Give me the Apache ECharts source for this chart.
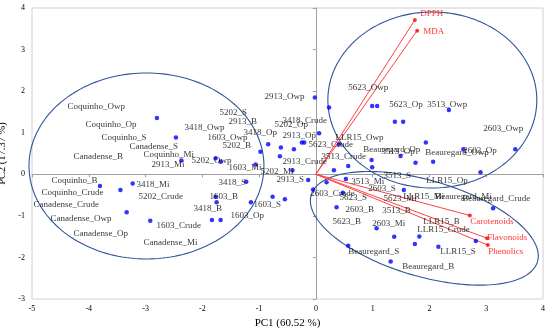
<!DOCTYPE html>
<html><head><meta charset="utf-8">
<script src="https://cdn.jsdelivr.net/npm/echarts/dist/echarts.min.js"></script>
<style>html,body{margin:0;padding:0;background:#fff}#c{width:550px;height:331px}</style>
</head><body><div id="c"></div>
<script>
// ---- data ----
const scorePC1 = [-2.80,-2.465,-2.368,-3.803,-3.442,-3.227,-3.333,-2.917,
  -1.766,-1.678,-1.062,-0.977,-0.840,-0.616,-0.387,-0.246,-0.206,-0.634,-0.414,-0.136,-1.227,-1.766,-1.748,-1.144,-1.831,-1.678,-0.762,-0.546,
  -0.018,0.232,0.056,-0.048,0.408,
  0.991,1.079,1.391,1.537,2.342,1.937,3.512,2.597,1.491,2.065,2.900,0.981,1.755,
  0.317,0.569,0.991,0.188,0.528,1.549,0.475,0.364,
  1.069,1.379,1.822,1.743,2.157,2.817,3.121,1.317,0.569];
const scorePC2 = [1.354,0.885,0.332,-0.281,-0.378,-0.221,-0.914,-1.116,
  0.385,0.303,0.236,0.544,0.722,0.645,0.601,0.765,0.765,0.433,0.099,-0.137,-0.178,-0.539,-0.674,-0.674,-1.099,-1.099,-0.539,-0.601,
  1.847,1.607,0.989,-0.366,0.722,
  1.643,1.643,1.265,1.265,1.547,0.765,0.601,0.601,0.440,0.303,0.051,0.344,0.279,
  0.096,0.200,0.168,-0.190,-0.113,-0.378,-0.443,-0.794,
  -1.299,-1.501,-1.496,-1.677,-1.742,-1.605,-0.818,-2.098,-1.720];

const loadingNames = ['DPPH','MDA','Carotenoids','Flavonoids','Phenolics'];
const loadingPC1 = [1.743,1.783,2.711,3.016,3.028];
const loadingPC2 = [3.712,3.454,-0.991,-1.540,-1.701];
const loadingLabelPC1 = [1.831,1.884,2.711,3.011,3.028];
const loadingLabelPC2 = [3.857,3.424,-1.147,-1.532,-1.869];

const sampleNames = ['Coquinho_Owp','Coquinho_Op','Coquinho_S','Canadense_S','Canadense_B','Coquinho_Mi','2913_Mi','Coquinho_B','Coquinho_Crude','3418_Mi','5202_Crude','Canadense_Crude','Canadense_Owp','1603_Crude','Canadense_Op','Canadense_Mi',
 '3418_Owp','5202_S','2913_B','1603_Owp','3418_Op','5202_B','5202_Owp','1603_Mi','5202_Mi','2913_Owp','3418_Crude','5202_Op','2913_Op','2913_Crude','2913_S','3418_S','1603_B','3418_B','1603_S','1603_Op',
 '5623_Crude','3513_Crude','LLR15_Owp','5623_Owp','5623_Op','3513_Owp','2603_Owp','Beauregard_Op','3513_Op','Beauregard_Owp','2603_Op','3513_S','LLR15_Op','3513_Mi','2603_S','2603_Crude','5623_S','5623_Mi','LLR15_Mi','Beauregard_Mi','Beauregard_Crude','2603_B','3513_B','5623_B','2603_Mi','LLR15_B','LLR15_Crude','LLR15_S','Beauregard_S','Beauregard_B'];
const sampleLabelPC1 = [-4.384,-4.067,-3.785,-3.292,-4.278,-3.046,-2.905,-4.665,-4.842,-3.169,-3.134,-4.982,-4.683,-2.817,-4.278,-3.046,
 -2.324,-1.708,-1.549,-1.919,-1.285,-1.655,-2.201,-1.549,-0.986,-0.915,-0.599,-0.739,-0.599,-0.599,-0.704,-1.725,-1.884,-2.165,-1.109,-1.514,
 -0.141,0.088,0.335,0.563,1.285,1.954,2.940,0.827,1.144,1.919,2.588,1.180,1.937,0.616,0.915,-0.106,0.405,1.180,1.532,2.095,2.570,0.511,1.162,0.282,0.986,1.884,1.778,2.183,0.563,1.514];
const sampleLabelPC2 = [1.619,1.186,0.873,0.657,0.416,0.464,0.224,-0.161,-0.450,-0.257,-0.546,-0.738,-1.075,-1.244,-1.436,-1.653,
 1.114,1.475,1.258,0.873,0.993,0.681,0.320,0.152,0.055,1.860,1.282,1.186,0.921,0.296,-0.137,-0.209,-0.546,-0.837,-0.738,-1.003,
 0.705,0.416,0.873,2.076,1.667,1.667,1.090,0.585,0.536,0.512,0.561,-0.041,-0.161,-0.185,-0.353,-0.474,-0.570,-0.594,-0.546,-0.546,-0.594,-0.859,-0.883,-1.147,-1.195,-1.147,-1.340,-1.869,-1.869,-2.230];

const ellipseCenter = [[-2.984,0.20],[2.051,1.787],[1.91,-1.30]];
const ellipseAxisA  = [[2.069,0],[1.840,0],[1.993,-0.801]];
const ellipseAxisB  = [[0,2.237],[0,2.117],[-0.238,-1.107]];

const xTickMin = -5, xTickMax = 4, yTickMin = -3, yTickMax = 4;
const xName = 'PC1 (60.52 %)', yName = 'PC2 (17.37 %)';

// ---- chart ----
const FONT = 'Liberation Serif';
const chart = echarts.init(document.getElementById('c'));

const ellipseData = ellipseCenter.map((c,i)=>[c[0],c[1],ellipseAxisA[i][0],ellipseAxisA[i][1],ellipseAxisB[i][0],ellipseAxisB[i][1]]);

const vectorSeries = loadingNames.map((n,i)=>({
  type:'line', name:n+'_vec', data:[[0,0],[loadingPC1[i],loadingPC2[i]]],
  symbol:'none', silent:true, animation:false, z:3,
  lineStyle:{color:'#ff4040', width:1}
}));

const labelData = sampleNames.map((n,i)=>({name:n, value:[sampleLabelPC1[i],sampleLabelPC2[i]]}))
 .concat(loadingNames.map((n,i)=>({name:n, value:[loadingLabelPC1[i],loadingLabelPC2[i]], label:{color:'#ff0000'}})));

const axisBase = {type:'value', splitLine:{show:false}};
chart.setOption({
  animation:false,
  grid:{left:32, right:7, top:8, bottom:32, show:true, borderColor:'#d0d0d0', borderWidth:1, containLabel:false, outerBoundsMode:'none'},
  xAxis:[
    Object.assign({}, axisBase, {min:xTickMin, max:xTickMax, interval:1, position:'bottom',
      axisLine:{show:false, onZero:false}, axisTick:{show:false},
      axisLabel:{color:'#000', fontSize:8, fontFamily:FONT, margin:6},
      name:xName, nameLocation:'middle', nameGap:17, nameTextStyle:{color:'#000', fontSize:11, fontFamily:FONT}}),
    Object.assign({}, axisBase, {min:xTickMin, max:xTickMax, interval:1, position:'bottom',
      axisLine:{show:true, onZero:true, onZeroAxisIndex:0, lineStyle:{color:'#a0a0a0', width:1}},
      axisTick:{show:true, length:3, lineStyle:{color:'#a0a0a0'}}, axisLabel:{show:false}})
  ],
  yAxis:[
    Object.assign({}, axisBase, {min:yTickMin, max:yTickMax, interval:1, position:'left',
      axisLine:{show:false, onZero:false}, axisTick:{show:false},
      axisLabel:{color:'#000', fontSize:8, fontFamily:FONT, margin:7},
      name:yName, nameLocation:'middle', nameGap:15, nameTextStyle:{color:'#000', fontSize:10.5, fontFamily:FONT}}),
    Object.assign({}, axisBase, {min:yTickMin, max:yTickMax, interval:1, position:'left',
      axisLine:{show:true, onZero:true, onZeroAxisIndex:0, lineStyle:{color:'#a0a0a0', width:1}},
      axisTick:{show:true, length:3, lineStyle:{color:'#a0a0a0'}}, axisLabel:{show:false}})
  ],
  series:[
    {
      type:'custom', name:'ellipses', data:ellipseData, clip:false, silent:true, z:2,
      encode:{x:0, y:1},
      renderItem:function(params, api){
        const cx=api.value(0), cy=api.value(1), ax=api.value(2), ay=api.value(3), bx=api.value(4), by=api.value(5);
        const pts=[];
        const N=180;
        for(let k=0;k<=N;k++){
          const t=2*Math.PI*k/N;
          pts.push(api.coord([cx+ax*Math.cos(t)+bx*Math.sin(t), cy+ay*Math.cos(t)+by*Math.sin(t)]));
        }
        return {type:'polyline', shape:{points:pts}, style:{stroke:'#2f5597', fill:null, lineWidth:1.1}};
      }
    },
    ...vectorSeries,
    {
      type:'scatter', name:'loadings', data:loadingPC1.map((x,i)=>[x,loadingPC2[i]]),
      symbol:'circle', symbolSize:4, itemStyle:{color:'#ff0000'}, z:4, silent:true
    },
    {
      type:'scatter', name:'scores', data:scorePC1.map((x,i)=>[x,scorePC2[i]]),
      symbol:'circle', symbolSize:4.5, itemStyle:{color:'#0000ff'}, z:5, silent:true
    },
    {
      type:'scatter', name:'labels', data:labelData, symbolSize:1, itemStyle:{color:'rgba(0,0,0,0)'},
      z:6, silent:true,
      label:{show:true, position:'right', distance:0, formatter:'{b}', color:'#000', fontSize:9, fontFamily:FONT},
      labelLayout:{hideOverlap:false}
    }
  ]
});
</script></body></html>
